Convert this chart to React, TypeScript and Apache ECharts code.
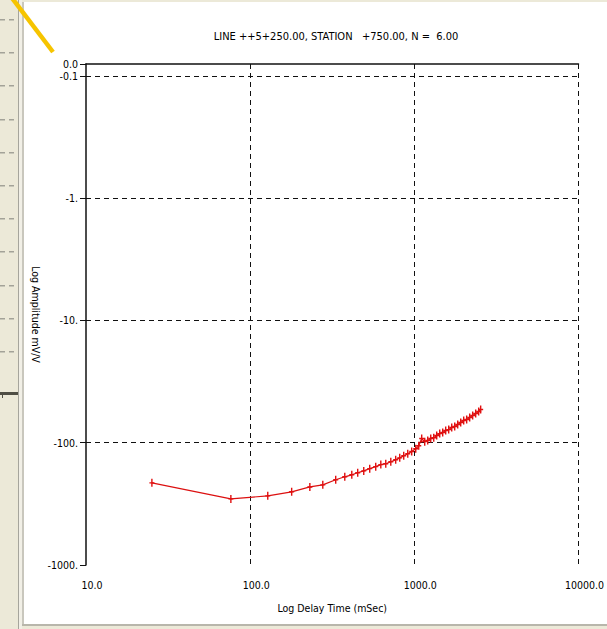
import React, { useEffect, useRef } from "react";
import * as echarts from "echarts";

const titleText = "LINE ++5+250.00, STATION   +750.00, N =  6.00";
const xAxisTitle = "Log Delay Time (mSec)";
const yAxisTitle = "Log Amplitude mV/V";

// delay time gates (mSec)
const delayTimes = [
  25.2, 76.3, 128, 179, 231, 277, 332, 377, 416, 452, 492, 535, 582, 625, 670,
  719, 770, 815, 862, 912, 964, 1020, 1064, 1109, 1157, 1207, 1259, 1313, 1369,
  1428, 1489, 1553, 1620, 1690, 1762, 1838, 1917, 1999, 2084, 2174, 2267, 2365,
  2466, 2536,
];
// amplitudes (mV/V), negative
const amplitudes = [
  -213, -288, -272, -252, -230, -221, -201, -190, -183, -176, -170, -163, -157,
  -151, -148.5, -143, -138, -133, -128, -123, -118, -112, -106, -92.5, -98, -96,
  -92.5, -91, -87.4, -84.2, -82.6, -79.5, -78.1, -75.1, -73.7, -71, -68.4, -65.8,
  -64.6, -62.2, -59.9, -57.7, -55.5, -53.5,
];

const FONT = "'Liberation Sans Narrow', 'DejaVu Sans Condensed', 'Arial Narrow', sans-serif";

export default function App() {
  const ref = useRef<HTMLDivElement>(null);
  useEffect(() => {
    if (!ref.current) return;
    const chart = echarts.init(ref.current, undefined, { renderer: "svg" });
    const data = delayTimes.map((t, i) => [t, -amplitudes[i]]);

    const rulerMarks: any[] = [];
    for (let k = 0; k < 12; k++) {
      const y = 19 + k * 33.2;
      if (y > 380) break;
      rulerMarks.push({ type: "rect", shape: { x: 0, y: Math.round(y), width: 5, height: 1.5 }, style: { fill: "#a3a298" }, silent: true });
      rulerMarks.push({ type: "rect", shape: { x: 9, y: Math.round(y), width: 5, height: 1.5 }, style: { fill: "#a3a298" }, silent: true });
    }

    const dash = [5, 4];
    chart.setOption({
      animation: false,
      backgroundColor: "#ffffff",
      title: {
        text: titleText,
        left: 331,
        top: 26,
        textAlign: "center",
        textStyle: { fontFamily: FONT, fontSize: 11, fontWeight: "normal", color: "#000" },
      },
      grid: { left: 86, right: 28, top: 64, bottom: 64 },
      xAxis: [
        {
          type: "log",
          logBase: 10,
          min: 10,
          max: 10000,
          name: xAxisTitle,
          nameLocation: "middle",
          nameGap: 37,
          nameMoveOverlap: false,
          nameTextStyle: { fontFamily: FONT, fontSize: 10.5, color: "#000" },
          axisLine: { show: false },
          axisTick: { show: false },
          minorTick: { show: false },
          axisLabel: {
            margin: 14,
            fontFamily: FONT,
            fontSize: 10.5,
            color: "#000",
            padding: [0, 0, 0, 12],
            formatter: (v: number) => v.toFixed(1),
          },
          splitLine: {
            show: true,
            showMinLine: false,
            lineStyle: { color: "#111", width: 1, type: dash },
          },
        },
        {
          type: "log",
          logBase: 10,
          min: 10,
          max: 10000,
          position: "top",
          axisLine: { show: true, onZero: false, lineStyle: { color: "#111", width: 1.5 } },
          axisTick: { show: false },
          axisLabel: { show: false },
          splitLine: { show: false },
        },
      ],
      yAxis: {
        type: "log",
        logBase: 10,
        min: 0.08,
        max: 1000,
        inverse: true,
        name: yAxisTitle,
        nameLocation: "middle",
        nameGap: 45,
        nameMoveOverlap: false,
        nameRotate: -90,
        nameTextStyle: { fontFamily: FONT, fontSize: 10.5, color: "#000" },
        axisLine: { show: true, onZero: false, lineStyle: { color: "#111", width: 1.5 } },
        axisTick: { show: true, inside: false, length: 6, lineStyle: { color: "#111", width: 1 } },
        minorTick: { show: false },
        axisLabel: {
          margin: 8,
          fontFamily: FONT,
          fontSize: 10.5,
          color: "#000",
          showMinLabel: true,
          showMaxLabel: true,
          formatter: (v: number) => {
            if (v < 0.095) return "0.0";
            if (v < 1) return "-" + v.toFixed(1);
            return "-" + Math.round(v) + ".";
          },
        },
        splitLine: {
          show: true,
          showMinLine: false,
          showMaxLine: false,
          lineStyle: { color: "#111", width: 1, type: dash },
        },
      },
      series: [
        {
          type: "line",
          data,
          xAxisIndex: 0,
          symbol: "path://M-0.7,-4 L0.7,-4 L0.7,4 L-0.7,4 Z M-2.5,-0.7 L2.5,-0.7 L2.5,0.7 L-2.5,0.7 Z",
          symbolSize: [5, 8],
          showSymbol: true,
          lineStyle: { color: "#dc1010", width: 1.2 },
          itemStyle: { color: "#e01010" },
          emphasis: { disabled: true },
        },
      ],
      graphic: [
        { type: "rect", shape: { x: 0, y: 0, width: 18, height: 629 }, style: { fill: "#ece9d8" }, silent: true, z: 0 },
        { type: "rect", shape: { x: 18, y: 0, width: 1, height: 629 }, style: { fill: "#a6a59c" }, silent: true },
        { type: "rect", shape: { x: 19, y: 0, width: 3, height: 629 }, style: { fill: "#f1efe6" }, silent: true },
        { type: "rect", shape: { x: 22, y: 0, width: 2, height: 629 }, style: { fill: "#c9c7bd" }, silent: true },
        { type: "rect", shape: { x: 22, y: 0, width: 585, height: 2 }, style: { fill: "#ece9d8" }, silent: true },
        { type: "rect", shape: { x: 22, y: 624, width: 585, height: 2 }, style: { fill: "#b8b6ab" }, silent: true },
        { type: "rect", shape: { x: 22, y: 626, width: 585, height: 3 }, style: { fill: "#ece9d8" }, silent: true },
        ...rulerMarks,
        { type: "rect", shape: { x: 0, y: 392, width: 18, height: 3 }, style: { fill: "#4f4e44" }, silent: true },
        { type: "rect", shape: { x: 2, y: 395, width: 1, height: 3 }, style: { fill: "#4f4e44" }, silent: true },
        {
          type: "line",
          shape: { x1: 12, y1: -2, x2: 53, y2: 52 },
          style: { stroke: "#f6c400", lineWidth: 4.5 },
          silent: true,
          z: 100,
        },
      ],
    });
    return () => chart.dispose();
  }, []);
  return (
    <div
      ref={ref}
      style={{ position: "fixed", left: 0, top: 0, width: 607, height: 629, background: "#fff" }}
    />
  );
}
